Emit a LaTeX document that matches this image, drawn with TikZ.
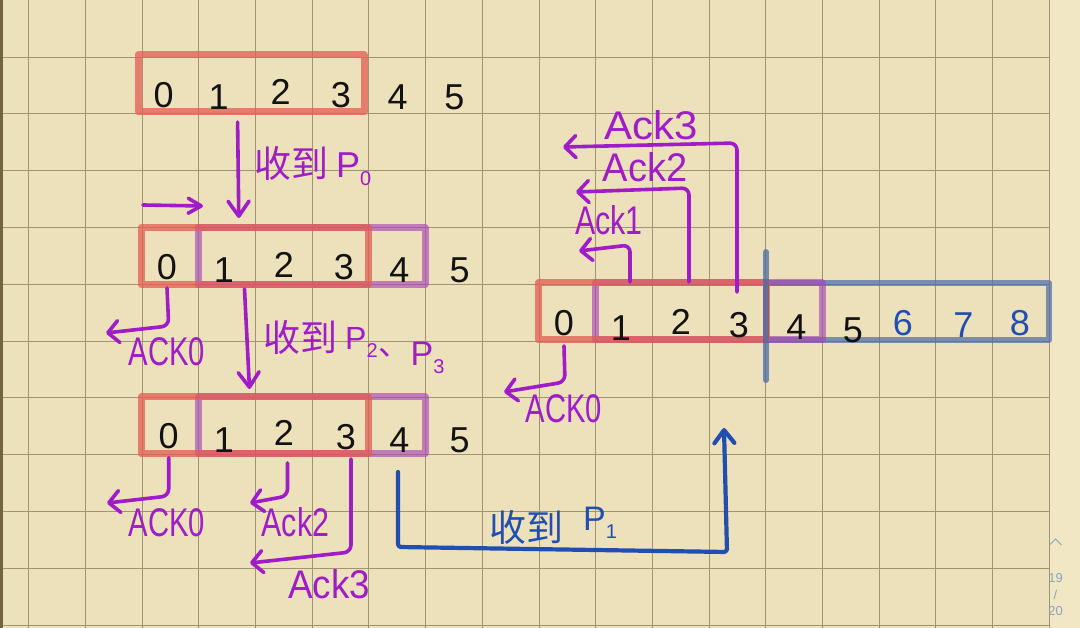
\documentclass[tikz,border=0pt]{standalone}
\usepackage{fontspec}
\setmainfont{Liberation Sans}
\newfontfamily\cjk{Noto Sans CJK SC}
\usetikzlibrary{arrows.meta}
\definecolor{paper}{RGB}{237,225,187}
\definecolor{margincol}{RGB}{241,231,196}
\definecolor{gridc}{RGB}{162,148,114}
\definecolor{edgecol}{RGB}{115,100,62}
\definecolor{pencol}{RGB}{160,28,200}
\definecolor{bpen}{RGB}{32,78,178}
\definecolor{rbox}{RGB}{228,92,82}
\definecolor{pbox}{RGB}{168,70,182}
\definecolor{bbox}{RGB}{72,108,170}
\definecolor{ink}{RGB}{18,18,18}
\definecolor{pageno}{RGB}{135,165,190}
\newcommand{\lowsub}[1]{\raisebox{-8pt}{\fontsize{20}{20}\selectfont #1}}
\begin{document}
\begin{tikzpicture}[x=1pt,y=-1pt,
  gridline/.style={draw=gridc,line width=0.8pt},
  boxr/.style={draw=rbox,draw opacity=0.75,line width=7pt,line join=round,inner sep=0pt,outer sep=0pt,minimum height=57pt},
  boxp/.style={draw=pbox,draw opacity=0.65,line width=7pt,line join=round,inner sep=0pt,outer sep=0pt,minimum height=57pt},
  boxb/.style={draw=bbox,draw opacity=0.7,line width=6pt,line join=round,inner sep=0pt,outer sep=0pt,minimum height=57pt},
  dig/.style={text=ink,font=\fontsize{36}{36}\selectfont,inner sep=0pt},
  bdig/.style={dig,text=bpen},
  penline/.style={draw=pencol,line width=3.6pt,line cap=round,line join=round},
  bpenline/.style={draw=bpen,line width=4.2pt,line cap=round,line join=round},
  downarrow/.style={penline,-{Straight Barb[length=15pt,width=21pt,round]}},
  ackarrow/.style={penline,rounded corners=7pt,-{Straight Barb[length=11pt,width=22pt,round]}},
  acktext/.style={text=pencol,font=\fontsize{40}{40}\selectfont,inner sep=0pt,anchor=base},
  cjklabel/.style={font=\cjk\fontsize{37}{37}\selectfont,inner sep=0pt,anchor=base west},
  plabel/.style={font=\fontsize{36}{36}\selectfont,inner sep=0pt,anchor=base west},
  pagetext/.style={text=pageno,font=\fontsize{13}{13}\selectfont,inner sep=0pt}
]
\useasboundingbox (0,0) rectangle (1080,628);
% paper and grid
\fill[paper] (0,0) rectangle (1049.2,628);
\fill[margincol] (1049.2,0) rectangle (1080,628);
\foreach \k in {0,...,18} \draw[gridline] ({28.6+56.7*\k},0) -- ({28.6+56.7*\k},628);
\foreach \k in {1,...,11} \draw[gridline] (0,{0.2+56.8*\k}) -- (1049.2,{0.2+56.8*\k});
\draw[draw=edgecol,line width=3pt] (1.5,0) -- (1.5,628);

% ---------- row 1 ----------
\node[boxr,minimum width=226pt] (box1) at (251,83.5) {};
\node[dig] (a0) at (163.6,95) {0};
\node[dig] (a1) at (218.7,97) {1};
\node[dig] (a2) at (280.6,92) {2};
\node[dig] (a3) at (341,95) {3};
\node[dig] (a4) at (397.7,97) {4};
\node[dig] (a5) at (454.5,97) {5};

\coordinate (p0s) at (237.6,122);
\coordinate (p0e) at (238.8,218);
\draw[downarrow] (p0s) -- (p0e);
\node[cjklabel,text=pencol] (lab1a) at (254,178) {收到};
\node[plabel,text=pencol] (lab1b) at (336,178) {P\lowsub{0}};

\coordinate (slides) at (143,205);
\coordinate (slidee) at (203,206);
\draw[penline,-{Straight Barb[length=13pt,width=15pt,round]}] (slides) -- (slidee);

% ---------- row 2 ----------
\node[boxp,minimum width=227pt] (box2p) at (311.5,256) {};
\node[boxr,minimum width=227pt] (box2r) at (254.5,256) {};
\node[dig] (b0) at (167,267) {0};
\node[dig] (b1) at (224,270) {1};
\node[dig] (b2) at (284,265) {2};
\node[dig] (b3) at (344,267) {3};
\node[dig] (b4) at (399.5,270) {4};
\node[dig] (b5) at (459.7,270) {5};

\coordinate (b0c) at (168.7,326);
\coordinate (b0t) at (106,333);
\draw[ackarrow] ([yshift=-8pt]b0.south) -- (b0c) -- (b0t);
\node[acktext] (ackb0) at (167,366) {\scalebox{0.73}[1]{ACK0}};

\coordinate (p23s) at (244.5,289);
\coordinate (p23e) at (249.5,389);
\draw[downarrow] (p23s) -- (p23e);
\node[cjklabel,text=pencol] (lab2a) at (263,352) {收到};
\node[plabel,text=pencol,font=\fontsize{32}{32}\selectfont] (lab2b) at (345,350)
  {P\lowsub{2}\kern1pt\raisebox{-6pt}{\cjk\fontsize{32}{32}\selectfont 、}\raisebox{-16pt}{\fontsize{34}{34}\selectfont P\lowsub{3}}};

% ---------- row 3 ----------
\node[boxp,minimum width=227pt] (box3p) at (311.5,425.5) {};
\node[boxr,minimum width=227pt] (box3r) at (254.5,425.5) {};
\node[dig] (c0) at (168.7,435.7) {0};
\node[dig] (c1) at (224,440) {1};
\node[dig] (c2) at (284,433) {2};
\node[dig] (c3) at (346,437) {3};
\node[dig] (c4) at (399.5,440) {4};
\node[dig] (c5) at (459.7,440) {5};

\coordinate (c0c) at (168.7,496);
\coordinate (c0t) at (107,503);
\draw[ackarrow] ([yshift=-9pt]c0.south) -- (c0c) -- (c0t);
\node[acktext] (ackc0) at (167,536) {\scalebox{0.73}[1]{ACK0}};

\coordinate (c2s) at (287.5,463);
\coordinate (c2c) at (287.5,496);
\coordinate (c2t) at (250,503);
\draw[ackarrow] (c2s) -- (c2c) -- (c2t);
\node[acktext] (ackc2) at (295.5,536) {\scalebox{0.76}[1]{Ack2}};

\coordinate (c3s) at (351,459);
\coordinate (c3c) at (351,552);
\coordinate (c3t) at (250,563);
\draw[ackarrow] (c3s) -- (c3c) -- (c3t);
\node[acktext] (ackc3) at (329,598) {\scalebox{0.92}[1]{Ack3}};

% blue transfer arrow
\coordinate (p1s) at (398,472);
\coordinate (p1a) at (398,547);
\coordinate (p1b) at (727,552);
\coordinate (p1e) at (724,428);
\draw[bpenline,rounded corners=3pt,-{Straight Barb[length=13pt,width=20pt,round]}] (p1s) -- (p1a) -- (p1b) -- (p1e);
\node[cjklabel,text=bpen] (lab3a) at (489,541) {收到};
\node[plabel,text=bpen,font=\fontsize{34}{34}\selectfont] (lab3b) at (583,530) {P\lowsub{1}};

% ---------- right row ----------
\node[boxb,minimum width=283pt] (boxRb) at (907.5,311.5) {};
\node[boxp,minimum width=227pt] (boxRp) at (708.5,311.5) {};
\node[boxr,minimum width=228pt] (boxRr) at (652,311.5) {};
\coordinate (wint) at (766,252);
\coordinate (winb) at (766,380);
\draw[draw=bbox,draw opacity=0.75,line width=6pt,line cap=round] (wint) -- (winb);

\node[dig] (d0) at (564,323) {0};
\node[dig] (d1) at (621,328) {1};
\node[dig] (d2) at (681,322) {2};
\node[dig] (d3) at (739,325) {3};
\node[dig] (d4) at (796.5,327) {4};
\node[dig] (d5) at (853,330) {5};
\node[bdig] (d6) at (903,323) {6};
\node[bdig] (d7) at (963.5,325) {7};
\node[bdig] (d8) at (1020,323) {8};

\coordinate (d0c) at (565,382);
\coordinate (d0t) at (504,392);
\draw[ackarrow] ([yshift=-10pt]d0.south) -- (d0c) -- (d0t);
\node[acktext] (ackd0) at (564,423) {\scalebox{0.73}[1]{ACK0}};

\coordinate (d1s) at (630,282);
\coordinate (d1c) at (630,245);
\coordinate (d1t) at (579,251);
\draw[ackarrow] (d1s) -- (d1c) -- (d1t);
\node[acktext] (ackd1) at (609,235) {\scalebox{0.76}[1]{Ack1}};

\coordinate (d2s) at (689,282);
\coordinate (d2c) at (689,188);
\coordinate (d2t) at (576,192);
\draw[ackarrow] (d2s) -- (d2c) -- (d2t);
\node[acktext] (ackd2) at (645,182) {\scalebox{0.95}[1]{Ack2}};

\coordinate (d3s) at (737,292);
\coordinate (d3c) at (737,143);
\coordinate (d3t) at (563,147);
\draw[ackarrow] (d3s) -- (d3c) -- (d3t);
\node[acktext] (ackd3) at (651,140) {\scalebox{1.05}[1]{Ack3}};

% page indicator
\coordinate (chl) at (1049.5,545);
\coordinate (chm) at (1055.5,539);
\coordinate (chr) at (1061.5,545);
\draw[draw=pageno,line width=1pt] (chl) -- (chm) -- (chr);
\node[pagetext] (pg19) at (1055.5,578) {19};
\node[pagetext] (pgsl) at (1055.5,595) {/};
\node[pagetext] (pg20) at (1055.5,611) {20};
\end{tikzpicture}
\end{document}
